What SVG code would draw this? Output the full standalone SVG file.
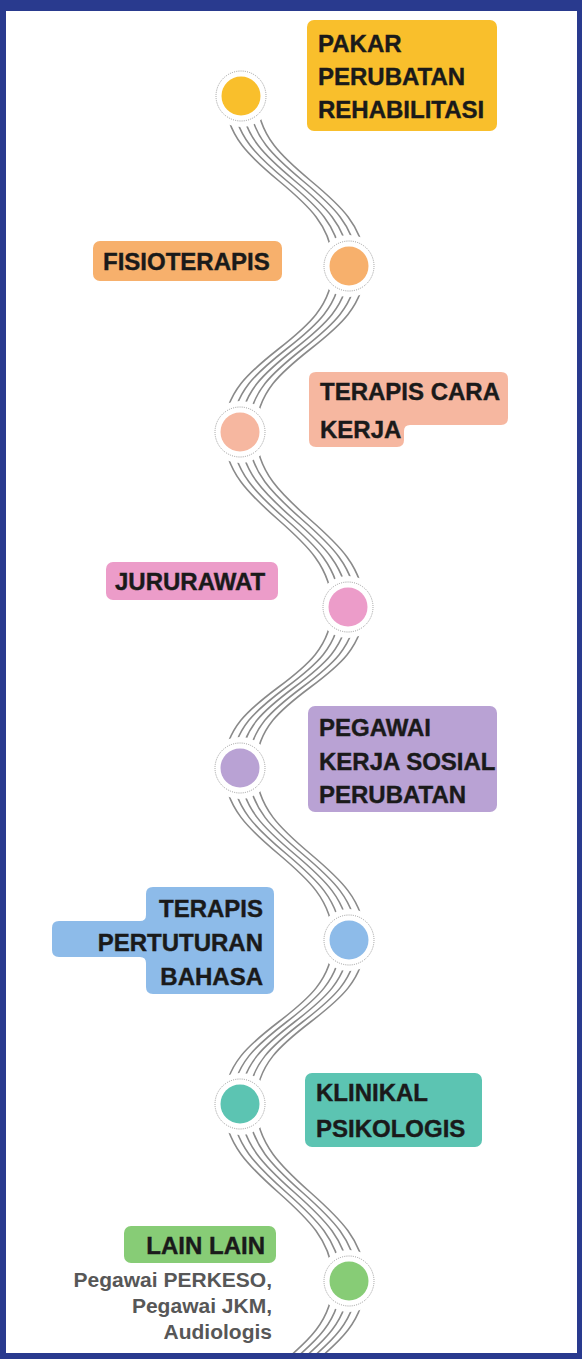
<svg xmlns="http://www.w3.org/2000/svg" xmlns:xlink="http://www.w3.org/1999/xlink" width="582" height="1359" viewBox="0 0 582 1359">
<style>
.lbl{font-family:"Liberation Sans",Arial,sans-serif;font-weight:bold;font-size:24px;fill:#1a1a1a;stroke:#1a1a1a;stroke-width:0.4}
.sub{font-family:"Liberation Sans",Arial,sans-serif;font-weight:bold;font-size:21px;fill:#575757}
.ln{fill:none;stroke:#8a8a8a;stroke-width:1.6}
.mask{fill:#ffffff}
.ring{fill:none;stroke:#9a9a9a;stroke-width:1;stroke-dasharray:1 1.2}
</style>
<defs>
<path id="c1" d="M241,96 C241,176 349,186 349,266"/>
<path id="c2" d="M349,266 C349,346 240,352 240,432"/>
<path id="c3" d="M240,432 C240,512 348,527 348,607"/>
<path id="c4" d="M348,607 C348,687 240,688 240,768"/>
<path id="c5" d="M240,768 C240,848 349,860 349,940"/>
<path id="c6" d="M349,940 C349,1020 240,1024 240,1104"/>
<path id="c7" d="M240,1104 C240,1184 349,1201 349,1281"/>
<path id="c8" d="M349,1281 C349,1361 240,1371 240,1451"/>
</defs>
<rect x="0" y="0" width="582" height="1359" fill="#293a8e"/>
<rect x="6" y="11" width="571" height="1342" fill="#ffffff"/>
<svg x="6" y="11" width="571" height="1342" viewBox="6 11 571 1342" overflow="hidden">
<g id="connectors" class="ln">
<use href="#c1" x="-16"/><use href="#c1" x="-8"/><use href="#c1"/><use href="#c1" x="8"/><use href="#c1" x="16"/>
<use href="#c2" x="-16"/><use href="#c2" x="-8"/><use href="#c2"/><use href="#c2" x="8"/><use href="#c2" x="16"/>
<use href="#c3" x="-16"/><use href="#c3" x="-8"/><use href="#c3"/><use href="#c3" x="8"/><use href="#c3" x="16"/>
<use href="#c4" x="-16"/><use href="#c4" x="-8"/><use href="#c4"/><use href="#c4" x="8"/><use href="#c4" x="16"/>
<use href="#c5" x="-16"/><use href="#c5" x="-8"/><use href="#c5"/><use href="#c5" x="8"/><use href="#c5" x="16"/>
<use href="#c6" x="-16"/><use href="#c6" x="-8"/><use href="#c6"/><use href="#c6" x="8"/><use href="#c6" x="16"/>
<use href="#c7" x="-16"/><use href="#c7" x="-8"/><use href="#c7"/><use href="#c7" x="8"/><use href="#c7" x="16"/>
<use href="#c8" x="-16"/><use href="#c8" x="-8"/><use href="#c8"/><use href="#c8" x="8"/><use href="#c8" x="16"/>
</g>
</svg>
<g id="n1">
<circle class="mask" cx="241" cy="96" r="31"/><circle class="ring" cx="241" cy="96" r="25"/><circle cx="241" cy="96" r="19.5" fill="#f9bf2c"/>
<rect x="307" y="20" width="190" height="111" rx="7" fill="#f9bf2c"/>
<text class="lbl" x="318" y="52">PAKAR</text>
<text class="lbl" x="318" y="85">PERUBATAN</text>
<text class="lbl" x="318" y="118">REHABILITASI</text>
</g>
<g id="n2">
<circle class="mask" cx="349" cy="266" r="31"/><circle class="ring" cx="349" cy="266" r="25"/><circle cx="349" cy="266" r="19.5" fill="#f7b06c"/>
<rect x="93" y="241" width="189" height="40" rx="7" fill="#f7b06c"/>
<text class="lbl" x="103" y="270">FISIOTERAPIS</text>
</g>
<g id="n3">
<circle class="mask" cx="240" cy="432" r="31"/><circle class="ring" cx="240" cy="432" r="25"/><circle cx="240" cy="432" r="19.5" fill="#f6b7a0"/>
<path d="M316,372 H501 Q508,372 508,379 V418 Q508,425 501,425 H410 Q404,425 404,431 V440 Q404,447 397,447 H316 Q309,447 309,440 V379 Q309,372 316,372 Z" fill="#f6b7a0"/>
<text class="lbl" x="320" y="400">TERAPIS CARA</text>
<text class="lbl" x="320" y="438">KERJA</text>
</g>
<g id="n4">
<circle class="mask" cx="348" cy="607" r="31"/><circle class="ring" cx="348" cy="607" r="25"/><circle cx="348" cy="607" r="19.5" fill="#ec9cc9"/>
<rect x="106" y="562" width="172" height="38" rx="7" fill="#ec9cc9"/>
<text class="lbl" x="115" y="590">JURURAWAT</text>
</g>
<g id="n5">
<circle class="mask" cx="240" cy="768" r="31"/><circle class="ring" cx="240" cy="768" r="25"/><circle cx="240" cy="768" r="19.5" fill="#b9a2d4"/>
<rect x="308" y="706" width="189" height="106" rx="7" fill="#b9a2d4"/>
<text class="lbl" x="319" y="736">PEGAWAI</text>
<text class="lbl" x="319" y="770">KERJA SOSIAL</text>
<text class="lbl" x="319" y="803">PERUBATAN</text>
</g>
<g id="n6">
<circle class="mask" cx="349" cy="940" r="31"/><circle class="ring" cx="349" cy="940" r="25"/><circle cx="349" cy="940" r="19.5" fill="#8dbbe9"/>
<path d="M153,887 H267 Q274,887 274,894 V987 Q274,994 267,994 H153 Q146,994 146,987 V963 Q146,957 140,957 H59 Q52,957 52,950 V928 Q52,921 59,921 H140 Q146,921 146,915 V894 Q146,887 153,887 Z" fill="#8dbbe9"/>
<text class="lbl" x="263" y="917" text-anchor="end">TERAPIS</text>
<text class="lbl" x="263" y="951" text-anchor="end">PERTUTURAN</text>
<text class="lbl" x="263" y="985" text-anchor="end">BAHASA</text>
</g>
<g id="n7">
<circle class="mask" cx="240" cy="1104" r="31"/><circle class="ring" cx="240" cy="1104" r="25"/><circle cx="240" cy="1104" r="19.5" fill="#5cc4b2"/>
<rect x="305" y="1073" width="177" height="74" rx="7" fill="#5cc4b2"/>
<text class="lbl" x="316" y="1101">KLINIKAL</text>
<text class="lbl" x="316" y="1137">PSIKOLOGIS</text>
</g>
<g id="n8">
<circle class="mask" cx="349" cy="1281" r="31"/><circle class="ring" cx="349" cy="1281" r="25"/><circle cx="349" cy="1281" r="19.5" fill="#87cc76"/>
<rect x="124" y="1226" width="152" height="37" rx="7" fill="#87cc76"/>
<text class="lbl" x="265" y="1254" text-anchor="end">LAIN LAIN</text>
<text class="sub" x="272" y="1287" text-anchor="end">Pegawai PERKESO,</text>
<text class="sub" x="272" y="1313" text-anchor="end">Pegawai JKM,</text>
<text class="sub" x="272" y="1339" text-anchor="end">Audiologis</text>
</g>
</svg>
